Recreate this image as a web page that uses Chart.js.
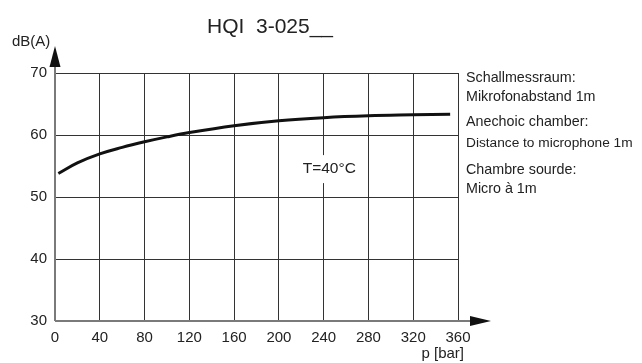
<!DOCTYPE html>
<html>
<head>
<meta charset="utf-8">
<script src="https://cdn.jsdelivr.net/npm/chart.js@4.4.1/dist/chart.umd.min.js"></script>
<style>
  html, body { margin: 0; padding: 0; background: #fff; }
</style>
</head>
<body>
<canvas id="myChart" width="642" height="363"></canvas>
<script>
const pressure = [3, 20, 40, 60, 80, 100, 120, 160, 200, 240, 280, 320, 353];
const noise = [53.8, 55.5, 56.95, 58.0, 58.9, 59.7, 60.4, 61.5, 62.3, 62.8, 63.1, 63.25, 63.35];
const xTicks = [0, 40, 80, 120, 160, 200, 240, 280, 320, 360];
const yTicks = [30, 40, 50, 60, 70];
const title = 'HQI  3-025__';
const tempNote = 'T=40°C';
const sideNotes = [
    ['Schallmessraum:', 14.3, 78],
    ['Mikrofonabstand 1m', 14.3, 97],
    ['Anechoic chamber:', 14.3, 122],
    ['Distance to microphone 1m', 13.7, 143],
    ['Chambre sourde:', 14.3, 170],
    ['Micro à 1m', 14.3, 189]
];

const FONT = "'Liberation Sans', Arial, sans-serif";
const ctx = document.getElementById('myChart');

// axes with arrows, titles and notes
const decor = {
    id: 'decor',
    afterDraw(chart) {
        const c = chart.ctx;
        const xs = chart.scales.x, ys = chart.scales.y;
        const x0 = xs.getPixelForValue(0), y0 = ys.getPixelForValue(30);
        const yTop = ys.getPixelForValue(70);
        const xEnd = xs.getPixelForValue(360);
        c.save();

        // T=40°C label with white box
        const tx = xs.getPixelForValue(245), ty = ys.getPixelForValue(54.5);
        c.fillStyle = '#fff';
        c.fillRect(tx - 26, ty - 14, 52, 28);
        c.fillStyle = '#222';
        c.font = '15.5px ' + FONT;
        c.textAlign = 'center';
        c.textBaseline = 'middle';
        c.fillText(tempNote, tx, ty);

        // axis lines
        c.strokeStyle = '#7a7a7a';
        c.lineWidth = 2;
        c.beginPath();
        c.moveTo(x0, y0);
        c.lineTo(x0, yTop - 8);
        c.moveTo(x0, y0);
        c.lineTo(xEnd + 13, y0);
        c.stroke();

        // arrows
        c.fillStyle = '#111';
        c.beginPath();
        c.moveTo(x0, yTop - 27);
        c.lineTo(x0 - 5.5, yTop - 6);
        c.lineTo(x0 + 5.5, yTop - 6);
        c.closePath();
        c.fill();
        c.beginPath();
        c.moveTo(xEnd + 33, y0);
        c.lineTo(xEnd + 12, y0 - 5);
        c.lineTo(xEnd + 12, y0 + 5);
        c.closePath();
        c.fill();

        // texts
        c.fillStyle = '#222';
        c.textBaseline = 'middle';
        c.font = '21px ' + FONT;
        c.textAlign = 'center';
        c.fillText(title, 270, 27);
        c.font = '15px ' + FONT;
        c.textAlign = 'left';
        c.fillText('dB(A)', 12, 42);
        c.textAlign = 'right';
        c.fillText('p [bar]', 464, 354);
        c.textAlign = 'left';
        sideNotes.forEach(([t, size, y]) => {
            c.font = size + 'px ' + FONT;
            c.fillText(t, 466, y);
        });
        c.restore();
    }
};

new Chart(ctx, {
    type: 'line',
    data: {
        datasets: [{
            data: pressure.map((p, i) => ({ x: p, y: noise[i] })),
            borderColor: '#111',
            borderWidth: 3,
            pointRadius: 0,
            fill: false,
            tension: 0.4
        }]
    },
    options: {
        responsive: false,
        animation: false,
        layout: { padding: { left: 0, right: 184, top: 73, bottom: 0 } },
        plugins: { legend: { display: false }, tooltip: { enabled: false } },
        scales: {
            x: {
                type: 'linear',
                min: 0,
                max: 360,
                afterBuildTicks: s => { s.ticks = xTicks.map(v => ({ value: v })); },
                afterFit: s => { s.height = 42; },
                grid: { color: '#333', lineWidth: 1, drawTicks: false },
                border: { display: false },
                ticks: { color: '#222', font: { family: FONT, size: 15 }, padding: 8, maxRotation: 0 }
            },
            y: {
                min: 30,
                max: 70,
                afterBuildTicks: s => { s.ticks = yTicks.map(v => ({ value: v })); },
                afterFit: s => { s.width = 55; },
                grid: { color: '#333', lineWidth: 1, drawTicks: false },
                border: { display: false },
                ticks: { color: '#222', font: { family: FONT, size: 15 }, padding: 8 }
            }
        }
    },
    plugins: [decor]
});
</script>
</body>
</html>
